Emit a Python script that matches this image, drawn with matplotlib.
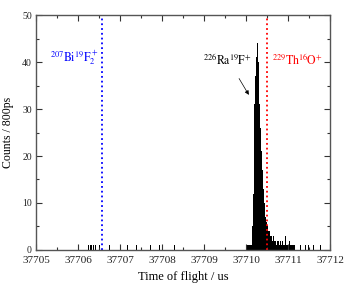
import numpy as np
import matplotlib
matplotlib.use('Agg')
import matplotlib.pyplot as plt
from matplotlib.ticker import MultipleLocator

plt.rcParams['font.family'] = ['Liberation Serif', 'DejaVu Serif']
plt.rcParams['mathtext.fontset'] = 'stix'

# histogram bins (left edges, us) and counts, bin width 0.02 us
bin_width = 0.02
peak_start = 37710.00
peak_counts = [1, 1, 1, 1, 1, 1, 1, 5, 12, 22,
               31, 37, 41, 44, 40, 35, 31, 26, 21, 17,
               13, 10, 9, 7, 6, 5, 4, 4, 3, 3,
               3, 2, 3, 2, 2, 2, 1, 2, 2, 1,
               2, 2, 1, 2, 1, 1, 3, 1, 1, 1,
               1, 2, 1, 1, 1, 1, 1, 1]
# isolated single counts
single_times = [37706.24, 37706.28, 37706.32, 37706.36, 37706.40, 37706.50,
                37706.73, 37707.16, 37707.38, 37707.72, 37707.92, 37708.28,
                37711.28, 37711.40, 37711.48, 37711.60, 37711.76]

bi_line = 37706.56
th_line = 37710.51

peak_times = peak_start + bin_width*np.arange(len(peak_counts))

fig = plt.figure(figsize=(3.53, 2.89), dpi=100)
ax = fig.add_axes([0.102, 0.135, 0.833, 0.813])

ax.bar(peak_times, peak_counts, width=bin_width, align='edge', color='black', linewidth=0)
ax.bar(single_times, np.ones(len(single_times)), width=bin_width, align='edge', color='black', linewidth=0)

ax.axvline(bi_line, color='blue', linestyle=':', linewidth=1.3)
ax.axvline(th_line, color='red', linestyle=':', linewidth=1.3)

ax.text(37706.5, 39.0, r'$^{207}\mathrm{Bi}^{19}\mathrm{F}_2^{\,+}$', color='blue', fontsize=8.5, ha='right', va='bottom')
ax.text(37710.14, 39.0, r'$^{226}\mathrm{Ra}^{19}\mathrm{F}^{+}$', color='black', fontsize=8.5, ha='right', va='bottom')
ax.text(37710.62, 39.0, r'$^{229}\mathrm{Th}^{16}\mathrm{O}^{+}$', color='red', fontsize=8.5, ha='left', va='bottom')
ax.annotate('', xy=(37710.1, 32.5), xytext=(37709.8, 37.0),
            arrowprops=dict(arrowstyle='-|>', color='black', lw=0.5, mutation_scale=6))

ax.set_xlim(37705, 37712)
ax.set_ylim(0, 50)
ax.xaxis.set_major_locator(MultipleLocator(1))
ax.xaxis.set_minor_locator(MultipleLocator(0.5))
ax.yaxis.set_major_locator(MultipleLocator(10))
ax.yaxis.set_minor_locator(MultipleLocator(5))
ax.ticklabel_format(useOffset=False)

ax.tick_params(which='major', direction='in', length=4, width=0.8, top=True, right=True, colors='#333333', labelcolor='#222222')
ax.tick_params(which='minor', direction='in', length=2.5, width=0.8, top=True, right=True, colors='#333333')
ax.tick_params(axis='x', which='major', labelsize=8, pad=4)
ax.tick_params(axis='y', which='major', labelsize=7, pad=3)
for s in ax.spines.values():
    s.set_linewidth(1.0)
    s.set_color('#555555')

ax.set_xlabel('Time of flight / us', fontsize=9, labelpad=5)
ax.set_ylabel('Counts / 800ps', fontsize=8.5, labelpad=6)

fig.savefig('out.png', dpi=100)
